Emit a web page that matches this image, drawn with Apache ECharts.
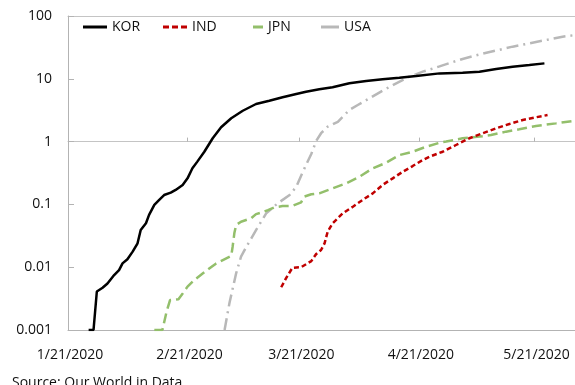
<!DOCTYPE html>
<html><head><meta charset="utf-8">
<script src="https://cdn.jsdelivr.net/npm/echarts@6/dist/echarts.min.js"></script>
<style>html,body{margin:0;padding:0;background:#fff}#c{width:575px;height:385px}</style>
</head><body><div id="c"></div>
<script>
// x values are days after 1/21/2020
const dateTickDays = [0, 31, 60, 91, 121];
const dateTickLabels = ['1/21/2020', '2/21/2020', '3/21/2020', '4/21/2020', '5/21/2020'];
const midTickDays = [31, 60, 91, 121];
const yTickLabels = ['0.001', '0.01', '0.1', '1', '10', '100'];
const seriesNames = ['KOR', 'IND', 'JPN', 'USA'];

const kor = [[5.35,0.001],[6.62,0.001],[7.48,0.0041],[8.97,0.0047],[10.24,0.0055],[11.97,0.0075],[13.24,0.009],[14.14,0.0115],[15.41,0.0134],[16.77,0.0177],[18.04,0.024],[18.86,0.039],[20.22,0.05],[21.03,0.068],[22.39,0.098],[23.66,0.118],[24.93,0.141],[26.65,0.154],[27.92,0.17],[29.74,0.204],[31.0,0.26],[32.27,0.376],[33.54,0.48],[35.36,0.69],[37.53,1.13],[39.71,1.69],[42.34,2.35],[45.33,3.1],[48.77,3.97],[52.22,4.48],[55.66,5.07],[59.2,5.73],[61.74,6.23],[65.18,6.8],[68.63,7.32],[72.98,8.48],[77.33,9.22],[81.59,9.82],[85.94,10.4],[90.3,11.1],[96.37,12.2],[102.35,12.5],[106.71,13.0],[111.06,14.3],[115.32,15.6],[119.67,16.6],[123.57,17.6]];
const ind = [[55.3,0.0048],[56.57,0.0067],[58.2,0.0098],[60.47,0.0100],[63.1,0.0125],[64.37,0.0162],[65.64,0.0188],[66.54,0.024],[67.36,0.037],[68.63,0.05],[71.26,0.072],[73.89,0.092],[76.43,0.118],[79.05,0.15],[81.59,0.204],[84.22,0.26],[86.85,0.332],[89.39,0.408],[92.02,0.51],[93.74,0.575],[97.19,0.69],[100.63,0.883],[104.08,1.13],[107.61,1.36],[111.06,1.63],[114.5,1.91],[117.95,2.21],[121.39,2.44],[124.38,2.65]];
const jpn = [[22.39,0.001],[24.48,0.001],[25.57,0.00196],[26.47,0.003],[28.65,0.0031],[29.74,0.0038],[31.0,0.0049],[32.82,0.0063],[35.0,0.008],[36.72,0.0096],[38.44,0.0115],[40.16,0.013],[42.34,0.0151],[42.7,0.0212],[43.15,0.035],[43.61,0.047],[44.88,0.053],[47.5,0.06],[48.77,0.07],[50.13,0.074],[51.86,0.081],[53.58,0.09],[55.66,0.094],[58.29,0.095],[60.47,0.108],[61.28,0.133],[63.1,0.145],[65.18,0.15],[68.63,0.18],[72.16,0.217],[75.61,0.276],[79.05,0.376],[82.5,0.46],[85.94,0.61],[89.39,0.69],[92.93,0.83],[96.37,0.96],[98.09,1.0],[102.35,1.13],[106.71,1.2],[109.7,1.27],[113.6,1.44],[117.04,1.57],[121.39,1.77],[126.56,1.95],[131.5,2.15]];
const usa = [[40.61,0.001],[41.88,0.0027],[43.61,0.008],[44.88,0.0147],[46.24,0.021],[48.77,0.039],[51.4,0.072],[54.39,0.104],[57.48,0.141],[59.2,0.191],[60.92,0.332],[63.1,0.635],[64.37,1.02],[65.64,1.36],[67.36,1.73],[69.99,2.07],[71.26,2.49],[72.98,3.19],[75.16,3.83],[78.15,4.89],[81.59,6.47],[85.13,8.48],[88.57,10.8],[92.02,13.0],[96.37,15.8],[102.35,20.7],[106.71,24.4],[111.06,28.2],[115.32,32.5],[119.67,36.7],[124.02,41.5],[128.28,46.8],[131.5,49.8]];

const FONT = '"Open Sans", "Noto Sans", sans-serif';
const TXT = '#111111';
const AXC = '#b3b3b3';
const xMin = 0, xMax = 131.5;

function legendFor(name, left, w, icon) {
  return {
    show: true, data: [{ name: name, icon: icon }], left: left, top: 20,
    itemWidth: w, itemHeight: 3, padding: 0, selectedMode: false,
    textStyle: { fontFamily: FONT, fontSize: 14, color: TXT }
  };
}

const chart = echarts.init(document.getElementById('c'), null, { renderer: 'canvas' });
chart.setOption({
  animation: false,
  backgroundColor: '#fff',
  grid: { left: 68, right: 0, top: 16, bottom: 55 },
  title: {
    text: 'Source: Our World in Data.', left: 12, top: 376, padding: 0,
    textStyle: { fontFamily: FONT, fontSize: 14, fontWeight: 'normal', color: TXT }
  },
  legend: [
    legendFor(seriesNames[0], 83, 24, 'rect'),
    legendFor(seriesNames[1], 163, 24, 'path://M0,0h6v3h-6z M9,0h6v3h-6z M18,0h6v3h-6z'),
    legendFor(seriesNames[2], 253, 10, 'rect'),
    legendFor(seriesNames[3], 321, 18, 'rect')
  ],
  xAxis: [
    {
      type: 'value', min: xMin, max: xMax, position: 'bottom',
      axisLine: { show: true, lineStyle: { color: AXC, width: 1 } },
      axisTick: { show: false }, splitLine: { show: false },
      axisLabel: {
        customValues: dateTickDays, margin: 18,
        fontFamily: FONT, fontSize: 14, color: TXT, padding: [0, 0, 0, 4],
        formatter: function (v) {
          const i = dateTickDays.indexOf(v);
          return i >= 0 ? dateTickLabels[i] : '';
        }
      }
    },
    {
      type: 'value', min: xMin, max: xMax, position: 'bottom', offset: -188.4,
      axisLine: { show: true, lineStyle: { color: '#c4c4c4', width: 1 } },
      axisTick: { show: true, inside: true, length: 4, customValues: midTickDays, lineStyle: { color: AXC } },
      axisLabel: { show: false }, splitLine: { show: false }
    },
    {
      type: 'value', min: xMin, max: xMax, position: 'top',
      axisLine: { show: true, lineStyle: { color: '#c4c4c4', width: 1 } },
      axisTick: { show: false }, axisLabel: { show: false }, splitLine: { show: false }
    }
  ],
  yAxis: {
    type: 'log', logBase: 10, min: 0.001, max: 100,
    axisLine: { show: true, lineStyle: { color: AXC, width: 1 } },
    axisTick: { show: true, inside: true, length: 6, lineStyle: { color: AXC } },
    splitLine: { show: false },
    axisLabel: {
      margin: 16, fontFamily: FONT, fontSize: 14, color: TXT, padding: [4, 0, 0, 0],
      formatter: function (v) { return yTickLabels[Math.round(Math.log10(v)) + 3]; }
    }
  },
  series: [
    { name: 'USA', type: 'line', data: usa, symbol: 'none', color: '#b8b8b8', z: 2,
      lineStyle: { width: 2.5, color: '#b8b8b8', type: [12, 5, 2, 5] } },
    { name: 'JPN', type: 'line', data: jpn, symbol: 'none', color: '#93bf6b', z: 3,
      lineStyle: { width: 2.5, color: '#93bf6b', type: [10, 5] } },
    { name: 'IND', type: 'line', data: ind, symbol: 'none', color: '#c00000', z: 4,
      lineStyle: { width: 2.5, color: '#c00000', type: [5, 3] } },
    { name: 'KOR', type: 'line', data: kor, symbol: 'none', color: '#000000', z: 5,
      lineStyle: { width: 2.5, color: '#000000' } }
  ]
});
</script></body></html>
